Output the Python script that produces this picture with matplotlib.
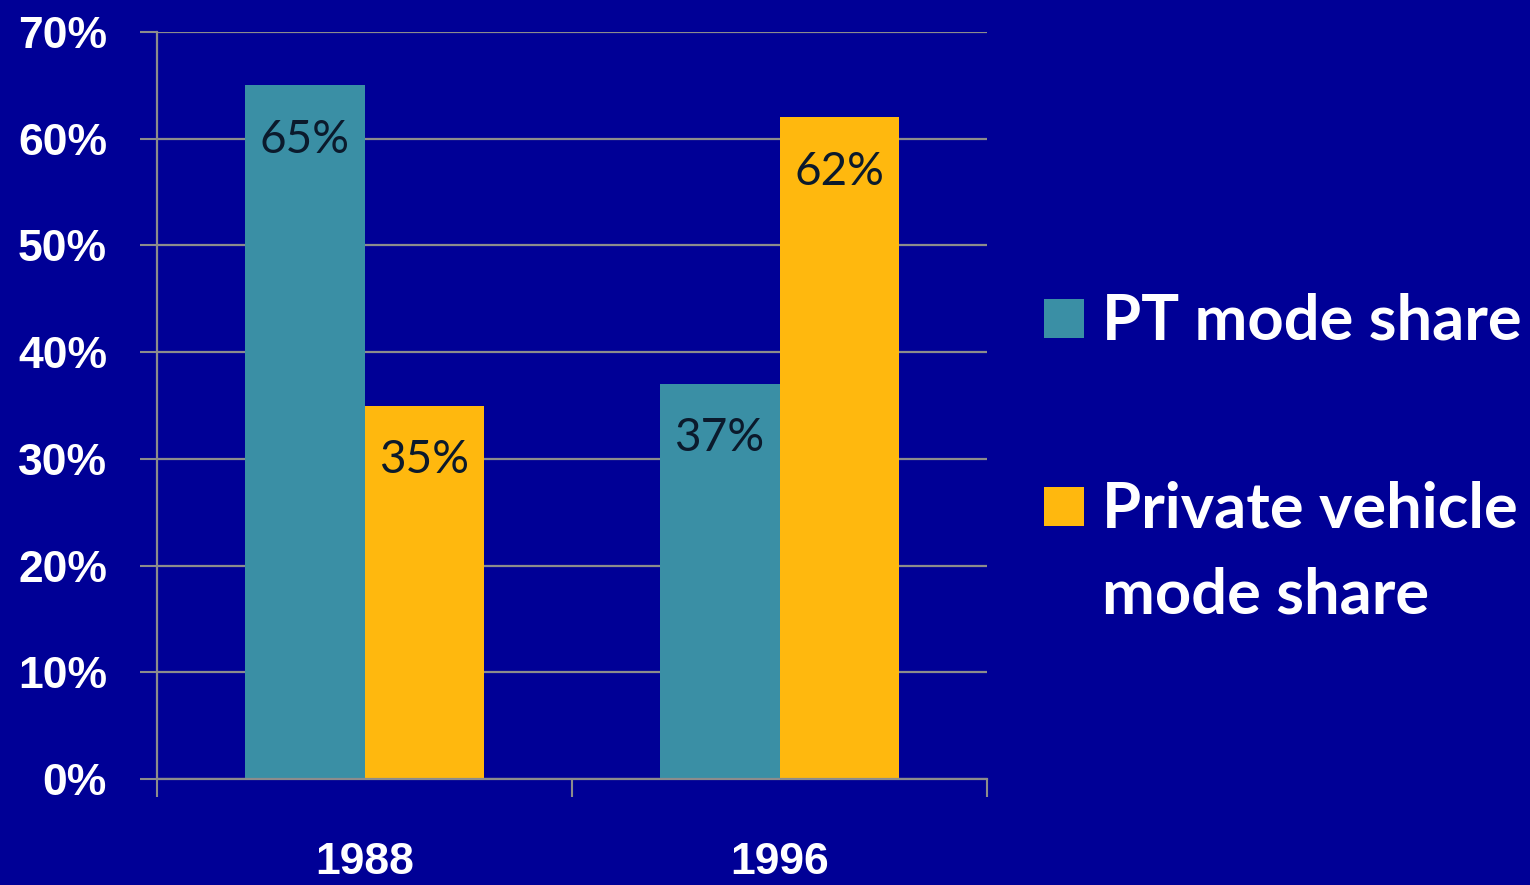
import matplotlib
matplotlib.use("Agg")
import matplotlib.pyplot as plt
from matplotlib.patches import Rectangle
import numpy as np

# ---- data ----
years = ["1988", "1996"]
series_names = ["PT mode share", "Private vehicle\nmode share"]
pt_share = [65, 37]
private_share = [35, 62]
yticks = [0, 10, 20, 30, 40, 50, 60, 70]
ytick_labels = [f"{t}%" for t in yticks]

BG = "#000096"
TEAL = "#3A8FA5"
ORANGE = "#FFB80E"
GRID = "#8C8C8C"

W, H = 1530, 885
fig = plt.figure(figsize=(W / 100, H / 100), dpi=100, facecolor=BG)

def fx(px):
    return px / W

def fy(py):
    return 1 - py / H

ax = fig.add_axes([fx(157), fy(779), fx(987) - fx(157), fy(32) - fy(779)])
ax.set_facecolor(BG)

x = np.arange(len(years))
bw = 0.289
b1 = ax.bar(x - bw / 2, pt_share, bw, color=TEAL, zorder=3)
b2 = ax.bar(x + bw / 2, private_share, bw, color=ORANGE, zorder=3)

for bars, vals in ((b1, pt_share), (b2, private_share)):
    for rect, v in zip(bars, vals):
        ax.annotate(f"{v}%", xy=(rect.get_x() + rect.get_width() / 2, v),
                    xytext=(0, -39), textcoords="offset points",
                    ha="center", va="center", fontsize=33,
                    family=["Lato", "DejaVu Sans"], color="#0B1A2C", zorder=4)

ax.set_xlim(-0.5, 1.5)
ax.set_ylim(0, 70)
ax.set_yticks(yticks)
ax.set_yticklabels(ytick_labels)
ax.yaxis.grid(True, color=GRID, linewidth=1.6, zorder=0)
ax.tick_params(axis="y", length=12, width=1.5, color=GRID, pad=24,
               labelsize=32, labelcolor="white")
for lab in ax.get_yticklabels():
    lab.set_fontfamily(["Liberation Sans", "DejaVu Sans"])
    lab.set_fontweight("bold")

ax.set_xticks(x)
ax.set_xticklabels(years)
ax.set_xticks([-0.5, 0.5, 1.5], minor=True)
ax.tick_params(axis="x", which="major", length=0, pad=45,
               labelsize=32, labelcolor="white")
ax.tick_params(axis="x", which="minor", length=13, width=1.5, color=GRID)
for lab in ax.get_xticklabels():
    lab.set_fontfamily(["Liberation Sans", "DejaVu Sans"])
    lab.set_fontweight("bold")

for s in ["top", "right"]:
    ax.spines[s].set_visible(False)
for s in ["left", "bottom"]:
    ax.spines[s].set_color(GRID)
    ax.spines[s].set_linewidth(1.6)
    ax.spines[s].set_zorder(5)

# ---- legend (drawn manually so the marker aligns with the first line) ----
leg_colors = [TEAL, ORANGE]
sq_tops = [299, 487]
baselines = [340, 527]
for name, col, top, base in zip(series_names, leg_colors, sq_tops, baselines):
    fig.add_artist(Rectangle((fx(1044), fy(top + 39)), fx(40), 39 / H,
                             transform=fig.transFigure, facecolor=col,
                             edgecolor="none"))
    for i, line in enumerate(name.split("\n")):
        fig.text(fx(1102), fy(base + 86 * i), line, ha="left", va="baseline",
                 fontsize=45.5, fontweight="bold", color="white",
                 family=["Lato", "DejaVu Sans"])

fig.savefig("out.png", dpi=100, facecolor=BG)
